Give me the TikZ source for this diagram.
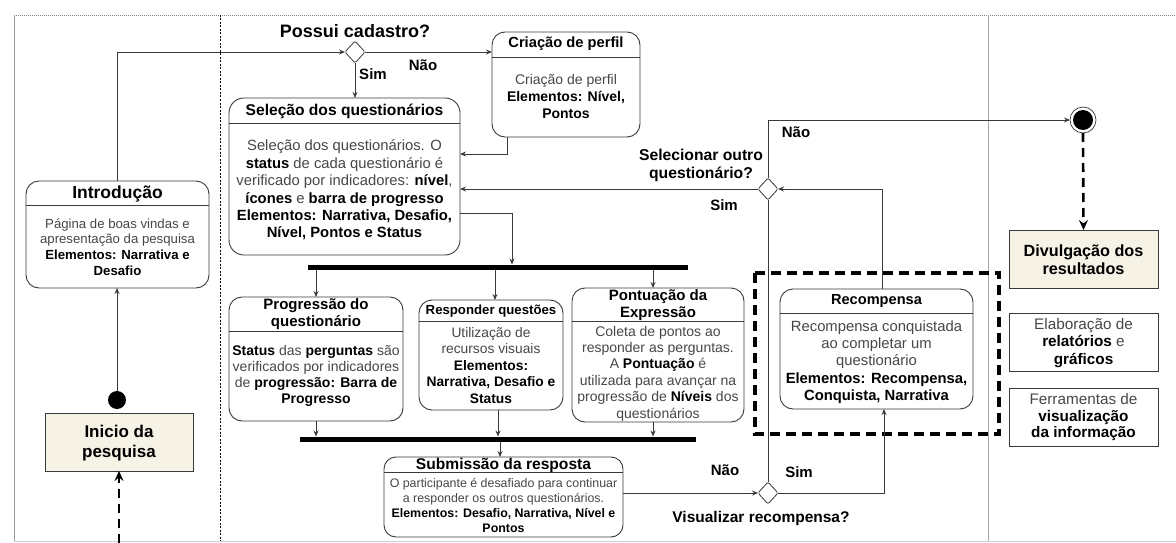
\documentclass[tikz,border=0pt]{standalone}
\usepackage{fontspec}
\setmainfont{Liberation Sans}
\usetikzlibrary{arrows.meta,shapes.geometric}

\definecolor{txt}{HTML}{474747}
\definecolor{ln}{HTML}{3A3A3A}
\definecolor{beige}{HTML}{F6F3E6}

\newcommand{\emphb}[1]{\textbf{\color{black}#1}}
\newcommand{\fsz}[2]{\fontsize{#1}{#2}\selectfont}

\begin{document}
\begin{tikzpicture}[x=1pt,y=-1pt,
  every node/.style={inner sep=0pt, outer sep=0pt},
  act/.style={draw=ln, line width=0.9pt, rounded corners=13pt, fill=white},
  plainbox/.style={draw=ln, line width=0.8pt},
  sepline/.style={draw=ln, line width=0.8pt},
  ttl/.style={align=center, font=\bfseries, text=black},
  body/.style={align=center, text=txt},
  lbl/.style={font=\bfseries\fsz{15}{17}, text=black, align=center},
  bar/.style={fill=black, minimum height=5pt},
  choice/.style={diamond, draw=ln, line width=0.8pt, fill=white, minimum width=20pt, minimum height=22pt, rounded corners=1.5pt},
  flow/.style={draw=ln, line width=0.9pt, -{Stealth[length=6pt,width=5pt]}},
  plainflow/.style={draw=ln, line width=0.9pt},
  bigdash/.style={draw=black, line width=2.6pt, dash pattern=on 9pt off 6pt, -{Stealth[length=10pt,width=9pt,inset=3.5pt]}}
]
\useasboundingbox (0,0) rectangle (1176,543);

% swimlane frame
\draw[gray, line width=0.6pt, dash pattern=on 1pt off 1pt] (14,15) -- (1176,15);
\draw[gray!80, line width=1pt] (14,15) -- (14,541);
\draw[black, line width=0.6pt, dash pattern=on 2pt off 1.5pt] (220,15) -- (220,541);
\draw[gray!70, line width=0.9pt] (988,15) -- (988,541);
\draw[gray!35, line width=1pt] (14,541) -- (1176,541);

% highlighted reward area
\draw[black, line width=3.4pt, dash pattern=on 10pt off 6pt] (755,273) rectangle (999,434);

% ---------- left lane ----------
\node[plainbox, fill=beige, minimum width=148pt, minimum height=58pt] (inicio) at (119,442) {};
\node[ttl, font=\bfseries\fsz{17}{20}] (inicioT) at (119,443) {Inicio da\\pesquisa};
\fill (117,400) circle (9pt);
\node[minimum size=18pt, circle] (start) at (117,400) {};

\node[act, minimum width=183pt, minimum height=107pt] (intro) at (117.5,234.5) {};
\draw[sepline] ([yshift=-24pt]intro.north west) -- ([yshift=-24pt]intro.north east);
\node[ttl, font=\bfseries\fsz{17.5}{20}] (introT) at (117.5,194) {Introdução};
\node[body, font=\fsz{13.2}{15.7}] (introB) at (117.5,247) {Página de boas vindas e\\apresentação da pesquisa\\\emphb{Elementos: Narrativa e}\\\emphb{Desafio}};

\coordinate (entry) at (119,543);

% ---------- middle lane ----------
\node[lbl, font=\bfseries\fsz{18}{20}] (q1) at (355,31) {Possui cadastro?};
\node[choice] (d1) at (355,52) {};

\node[act, minimum width=148pt, minimum height=105pt] (cria) at (566,84.5) {};
\draw[sepline] ([yshift=-25pt]cria.north west) -- ([yshift=-25pt]cria.north east);
\node[ttl, font=\bfseries\fsz{14.7}{17}] (criaT) at (566,44) {Criação de perfil};
\node[body, font=\fsz{14}{17}] (criaB) at (566,96.5) {Criação de perfil\\\emphb{Elementos: Nível,}\\\emphb{Pontos}};

\node[act, minimum width=231pt, minimum height=157pt, rounded corners=15pt] (sel) at (344.5,176.5) {};
\draw[sepline] ([yshift=-25pt]sel.north west) -- ([yshift=-25pt]sel.north east);
\node[ttl, font=\bfseries\fsz{15.6}{18}] (selT) at (344.5,111) {Seleção dos questionários};
\node[body, font=\fsz{14.8}{17.4}] (selB) at (344.5,190) {Seleção dos questionários. O\\\emphb{status} de cada questionário é\\verificado por indicadores: \emphb{nível},\\\emphb{ícones} e \emphb{barra de progresso}\\\emphb{Elementos: Narrativa, Desafio,}\\\emphb{Nível, Pontos e Status}};

\node[bar, minimum width=380pt] (bar1) at (498,267) {};

\node[act, minimum width=174pt, minimum height=124pt] (prog) at (316,359) {};
\draw[sepline] ([yshift=-34pt]prog.north west) -- ([yshift=-34pt]prog.north east);
\node[ttl, font=\bfseries\fsz{15}{17}] (progT) at (316,314) {Progressão do\\questionário};
\node[body, font=\fsz{14}{16}] (progB) at (316,375.5) {\emphb{Status} das \emphb{perguntas} são\\verificados por indicadores\\de \emphb{progressão: Barra de}\\\emphb{Progresso}};

\node[act, minimum width=144pt, minimum height=110pt] (resp) at (491,355) {};
\draw[sepline] ([yshift=-21pt]resp.north west) -- ([yshift=-21pt]resp.north east);
\node[ttl, font=\bfseries\fsz{13.2}{15}] (respT) at (491,311) {Responder questões};
\node[body, font=\fsz{13.8}{16.5}] (respB) at (491,365.5) {Utilização de\\recursos visuais\\\emphb{Elementos:}\\\emphb{Narrativa, Desafio e}\\\emphb{Status}};

\node[act, minimum width=172pt, minimum height=134pt] (pont) at (658,355) {};
\draw[sepline] ([yshift=-33pt]pont.north west) -- ([yshift=-33pt]pont.north east);
\node[ttl, font=\bfseries\fsz{15}{17}] (pontT) at (658,305.5) {Pontuação da\\Expressão};
\node[body, font=\fsz{14}{16.4}] (pontB) at (658,373.5) {Coleta de pontos ao\\responder as perguntas.\\A \emphb{Pontuação} é\\utilizada para avançar na\\progressão de \emphb{Níveis} dos\\questionários};

\node[bar, minimum width=396pt] (bar2) at (498,439) {};

\node[act, minimum width=239pt, minimum height=80pt, rounded corners=12pt] (sub) at (503.5,497) {};
\draw[sepline] ([yshift=-15pt]sub.north west) -- ([yshift=-15pt]sub.north east);
\node[ttl, font=\bfseries\fsz{15.6}{17}] (subT) at (503.5,465) {Submissão da resposta};
\node[body, font=\fsz{12.4}{15}] (subB) at (503.5,505) {O participante é desafiado para continuar\\a responder os outros questionários.\\\emphb{Elementos: Desafio, Narrativa, Nível e}\\\emphb{Pontos}};

\node[choice] (d2) at (768,493) {};
\node[lbl, font=\bfseries\fsz{15.5}{17}] (q2) at (761,518) {Visualizar recompensa?};

\node[choice] (d3) at (768,189) {};
\node[lbl, font=\bfseries\fsz{15.7}{18}] (q3) at (701,165) {Selecionar outro\\questionário?};

\node[act, minimum width=193pt, minimum height=120pt] (rec) at (876.5,349) {};
\draw[sepline] ([yshift=-24pt]rec.north west) -- ([yshift=-24pt]rec.north east);
\node[ttl, font=\bfseries\fsz{14.6}{17}] (recT) at (876.5,301) {Recompensa};
\node[body, font=\fsz{14.8}{17.2}] (recB) at (876.5,362) {Recompensa conquistada\\ao completar um\\questionário\\\emphb{Elementos: Recompensa,}\\\emphb{Conquista, Narrativa}};

% ---------- right lane ----------
\draw[ln, line width=0.7pt, fill=white] (1083,120) circle (13pt);
\fill (1083,120) circle (10pt);
\node[circle, minimum size=26pt] (fin) at (1083,120) {};

\node[plainbox, fill=beige, minimum width=149pt, minimum height=58pt] (div) at (1083.5,259) {};
\node[ttl, font=\bfseries\fsz{16.2}{18}] (divT) at (1083.5,259.5) {Divulgação dos\\resultados};

\node[plainbox, minimum width=149pt, minimum height=58pt] (elab) at (1083.5,342) {};
\node[body, font=\fsz{15.3}{17.5}] (elabT) at (1083.5,343) {Elaboração de\\\emphb{relatórios} e\\\emphb{gráficos}};

\node[plainbox, minimum width=149pt, minimum height=58pt] (ferr) at (1083.5,417) {};
\node[body, font=\fsz{15.3}{16.5}] (ferrT) at (1083.5,417.5) {Ferramentas de\\\emphb{visualização}\\\emphb{da informação}};

% ---------- connectors ----------
\draw[bigdash] (entry) -- (inicio.south);
\draw[flow] (start.north) -- (intro.south -| start.north);
\draw[flow] (intro.north) |- (d1.west);
\draw[flow] (d1.east) -- (cria.west |- d1.east);
\node[lbl] (nao1) at (423,65) {Não};
\draw[flow] (d1.south) -- (sel.north -| d1.south);
\node[lbl] (sim1) at (373,74) {Sim};
\draw[flow] ([xshift=15pt]cria.south west) |- ([yshift=-56pt]sel.north east);
\draw[flow] ([yshift=-115pt]sel.north east) -| ([xshift=14pt]bar1.north);

\draw[flow] (bar1.south -| prog.north) -- (prog.north);
\draw[flow] ([xshift=4pt]bar1.south -| resp.north) -- ([xshift=4pt]resp.north);
\draw[flow] ([xshift=-5pt]bar1.south -| pont.north) -- ([xshift=-5pt]pont.north);
\draw[flow] (prog.south) -- (bar2.north -| prog.south);
\draw[flow] ([xshift=7pt]resp.south) -- ([xshift=7pt]bar2.north -| resp.south);
\draw[flow] ([xshift=-5pt]pont.south) -- ([xshift=-5pt]bar2.north -| pont.south);
\draw[flow] ([xshift=-3.5pt]bar2.south -| sub.north) -- ([xshift=-3.5pt]sub.north);

\draw[flow] ([yshift=4pt]sub.east) -- (d2.west);
\node[lbl] (nao2) at (725,470) {Não};
\draw[flow] (d2.east) -| ([xshift=7.5pt]rec.south);
\node[lbl] (sim2) at (799,472) {Sim};
\draw[plainflow] (d2.north) -- (d3.south);
\draw[flow] ([xshift=5.5pt]rec.north) |- (d3.east);
\draw[flow] (d3.west) -- (sel.east |- d3.west);
\node[lbl] (sim3) at (724,205) {Sim};
\draw[flow] (d3.north) |- (fin.west);
\node[lbl] (nao3) at (796,132) {Não};
\draw[bigdash] (fin.south) -- (div.north);
\end{tikzpicture}
\end{document}
